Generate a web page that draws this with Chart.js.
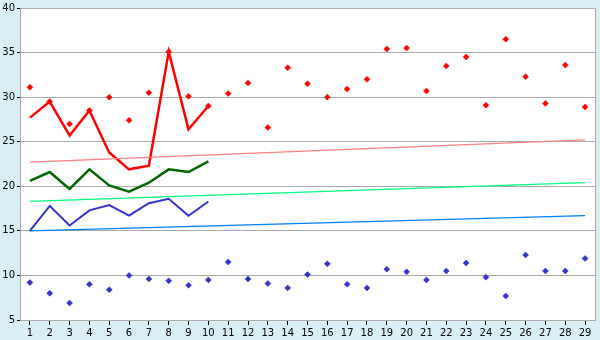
<!DOCTYPE html>
<html>
<head>
<meta charset="utf-8">
<script src="https://cdn.jsdelivr.net/npm/chart.js@4.4.1/dist/chart.umd.min.js"></script>
<style>
	html, body { margin: 0; padding: 0; background: #d9eff5; }
	#wrap { width: 600px; height: 340px; }
</style>
</head>
<body>
<div id="wrap"><canvas id="chart" width="600" height="340"></canvas></div>
<script>
// categories
var days = ["1","2","3","4","5","6","7","8","9","10","11","12","13","14","15",
	"16","17","18","19","20","21","22","23","24","25","26","27","28","29"];

// daily highs (red points) and lows (blue points)
var highPoints = [31.1, 29.5, 27.0, 28.5, 30.0, 27.4, 30.5, 35.1, 30.1, 29.0,
	30.4, 31.6, 26.6, 33.3, 31.5, 30.0, 30.9, 32.0, 35.4, 35.5,
	30.7, 33.5, 34.5, 29.1, 36.5, 32.3, 29.3, 33.6, 28.9];
var lowPoints = [9.2, 8.0, 6.9, 9.0, 8.4, 10.0, 9.6, 9.4, 8.9, 9.5,
	11.5, 9.6, 9.1, 8.6, 10.1, 11.3, 9.0, 8.6, 10.7, 10.4,
	9.5, 10.5, 11.4, 9.8, 7.7, 12.3, 10.5, 10.5, 11.9];

// lines over the first ten days
var highLine = [27.7, 29.5, 25.7, 28.5, 23.8, 21.9, 22.3, 35.1, 26.4, 29.0];
var meanLine = [20.6, 21.6, 19.7, 21.9, 20.1, 19.4, 20.4, 21.9, 21.6, 22.8];
var lowLine  = [15.0, 17.8, 15.6, 17.3, 17.9, 16.7, 18.1, 18.6, 16.7, 18.3];

// trend lines, value at first and last day
var highTrend = [22.7, 25.2];
var meanTrend = [18.3, 20.4];
var lowTrend  = [15.0, 16.7];

// y axis ticks
var yMin = 5;
var yMax = 40;
var yStep = 5;

function trendData(ends) {
	return [{ x: days[0], y: ends[0] }, { x: days[days.length - 1], y: ends[1] }];
}

function lineSet(data, color, width) {
	return {
		data: data,
		borderColor: color,
		backgroundColor: color,
		borderWidth: width,
		pointRadius: 0,
		tension: 0,
		fill: false
	};
}

function pointSet(data, color) {
	return {
		data: data,
		showLine: false,
		pointStyle: 'rectRot',
		pointRadius: 3,
		borderWidth: 0.5,
		borderColor: color,
		backgroundColor: color
	};
}

// white plot area and gray frame
var plotFrame = {
	id: 'plotFrame',
	beforeDraw: function(chart) {
		var a = chart.chartArea;
		var ctx = chart.ctx;
		ctx.save();
		ctx.fillStyle = '#ffffff';
		ctx.fillRect(a.left, a.top, a.right - a.left, a.bottom - a.top);
		ctx.restore();
	},
	afterDraw: function(chart) {
		var a = chart.chartArea;
		var ctx = chart.ctx;
		ctx.save();
		ctx.strokeStyle = '#aaaaaa';
		ctx.lineWidth = 1;
		ctx.beginPath();
		ctx.moveTo(a.left, a.top + 0.5);
		ctx.lineTo(a.right + 0.5, a.top + 0.5);
		ctx.lineTo(a.right + 0.5, a.bottom);
		ctx.stroke();
		ctx.restore();
	}
};

var ctx = document.getElementById("chart");
var chart = new Chart(ctx, {
	type: 'line',
	data: {
		labels: days,
		datasets: [
			lineSet(trendData(highTrend), '#ff8080', 1.2),
			lineSet(trendData(meanTrend), '#00ff80', 1.2),
			lineSet(trendData(lowTrend), '#0080ff', 1.2),
			lineSet(highLine, '#ff0000', 2.5),
			lineSet(meanLine, '#006600', 2.5),
			lineSet(lowLine, '#3333cc', 2),
			pointSet(highPoints, '#ff0000'),
			pointSet(lowPoints, '#3333cc')
		]
	},
	options: {
		responsive: false,
		animation: false,
		devicePixelRatio: 1,
		layout: { padding: { top: 5, right: 5, left: 0, bottom: 0 } },
		plugins: {
			legend: { display: false },
			tooltip: { enabled: false }
		},
		scales: {
			x: {
				offset: true,
				grid: {
					offset: false,
					drawOnChartArea: false,
					drawTicks: true,
					tickLength: 5,
					tickColor: '#000000'
				},
				border: { color: '#aaaaaa' },
				ticks: {
					color: '#000000',
					padding: 2,
					autoSkip: false,
					maxRotation: 0,
					font: { family: 'DejaVu Sans', size: 10 }
				},
				afterFit: function(scale) { scale.height = 20; }
			},
			y: {
				min: yMin,
				max: yMax,
				grid: {
					color: '#aaaaaa',
					tickLength: 3,
					tickColor: '#000000'
				},
				border: { color: '#aaaaaa' },
				ticks: {
					stepSize: yStep,
					color: '#000000',
					padding: 2,
					font: { family: 'DejaVu Sans', size: 10 }
				},
				afterFit: function(scale) { scale.width = 20; }
			}
		}
	},
	plugins: [plotFrame]
});
</script>
</body>
</html>
